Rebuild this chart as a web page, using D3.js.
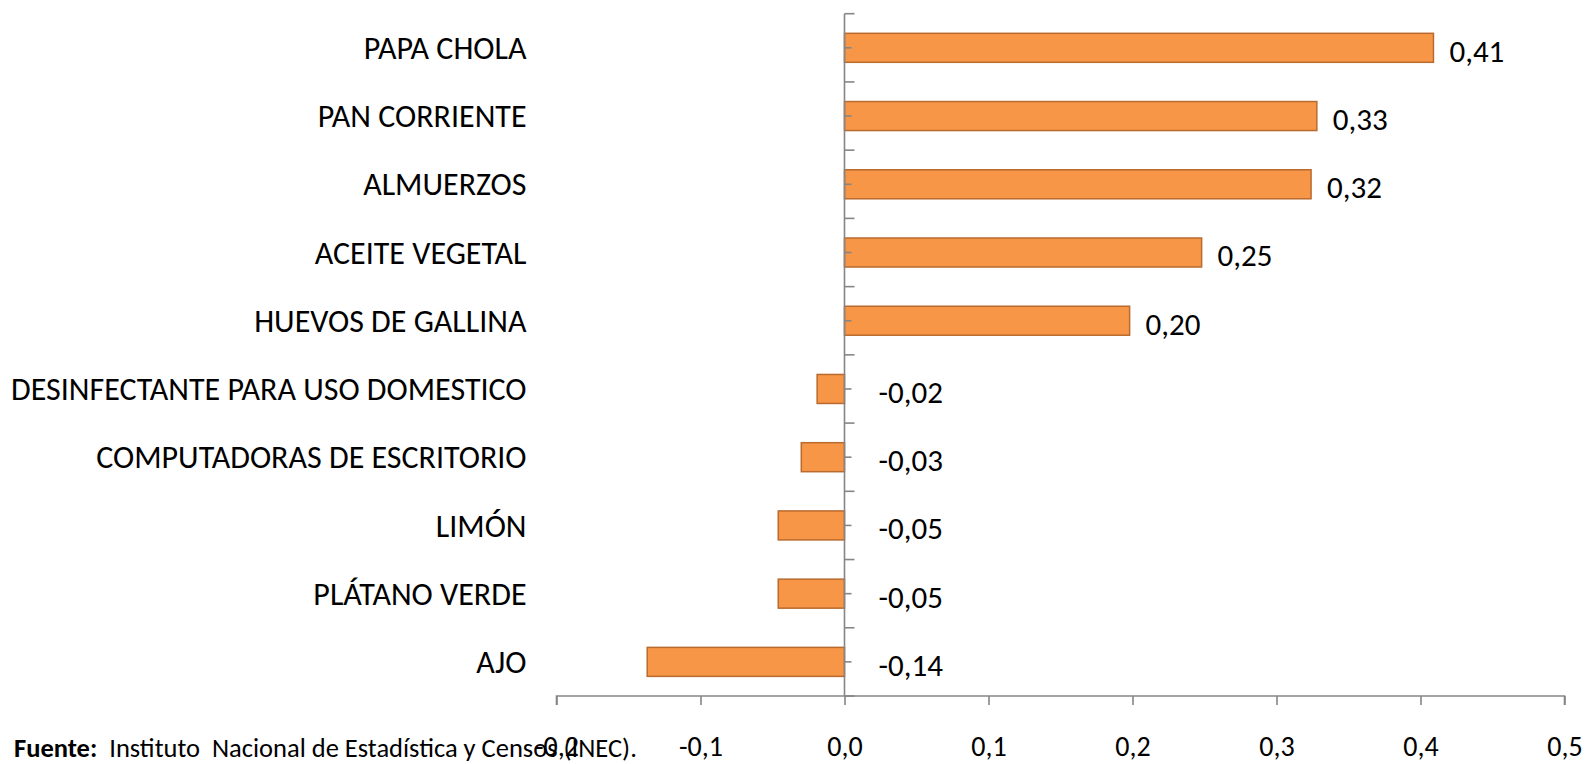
<!DOCTYPE html>
<html>
<head>
<meta charset="utf-8">
<script src="https://cdn.jsdelivr.net/npm/d3@7"></script>
<style>
  html, body { margin: 0; padding: 0; background: #ffffff; }
  svg { display: block; }
  text { font-family: "Carlito", "Lato", "Open Sans", sans-serif; fill: #000; }
</style>
</head>
<body>
<svg id="chart" width="1586" height="764"></svg>
<script>
// ---- data ----
const categories = [
  "PAPA CHOLA",
  "PAN CORRIENTE",
  "ALMUERZOS",
  "ACEITE VEGETAL",
  "HUEVOS DE GALLINA",
  "DESINFECTANTE PARA USO DOMESTICO",
  "COMPUTADORAS DE ESCRITORIO",
  "LIMÓN",
  "PLÁTANO VERDE",
  "AJO"
];
const values = [0.409, 0.328, 0.324, 0.248, 0.198, -0.019, -0.030, -0.046, -0.046, -0.137];
const xTicks = [-0.2, -0.1, 0.0, 0.1, 0.2, 0.3, 0.4, 0.5];
const sourceBold = "Fuente:";
const sourceText = "Instituto  Nacional de Estadística y Censos (INEC).";

// ---- layout ----
const svg = d3.select("#chart");
const plot = { left: 556.5, right: 1564.5, top: 13.7, bottom: 696 };
const axisColor = "#868686";
const fmt = v => d3.format(".2f")(v).replace(".", ",").replace("\u2212", "-");
const fmt1 = v => d3.format(".1f")(v).replace(".", ",").replace("\u2212", "-");

const x = d3.scaleLinear().domain([-0.2, 0.5]).range([plot.left, plot.right]);
const y = d3.scaleBand().domain(categories).range([plot.top, plot.bottom])
  .paddingInner(0.575).paddingOuter(0.2875);
const idx = d3.scaleLinear().domain([0, categories.length]).range([plot.top, plot.bottom]);

const data = categories.map((c, i) => ({ c, v: values[i] }));

// bars
svg.append("g").selectAll("rect").data(data).join("rect")
  .attr("x", d => x(Math.min(0, d.v)))
  .attr("y", d => y(d.c))
  .attr("width", d => Math.abs(x(d.v) - x(0)))
  .attr("height", y.bandwidth())
  .attr("fill", "#F79646")
  .attr("stroke", "#B96A2E")
  .attr("stroke-width", 1.5);

// x axis
const xAxis = svg.append("g")
  .attr("transform", `translate(0,${plot.bottom})`)
  .call(d3.axisBottom(x).tickValues(xTicks).tickSize(9).tickPadding(34)
    .tickFormat(v => fmt1(v)));
xAxis.select(".domain").attr("stroke", axisColor).attr("stroke-width", 1.6)
  .attr("d", `M${plot.left},9V0H${plot.right}V9`);
xAxis.selectAll(".tick line").attr("stroke", axisColor).attr("stroke-width", 1.6);
xAxis.selectAll(".tick text").attr("font-size", 28).attr("fill", "#000")
  .attr("dy", "0.62em")
  .style("font-family", '"Carlito","Lato","Open Sans",sans-serif');

// y axis (at x = 0)
const yAxis = svg.append("g").attr("transform", `translate(${x(0)},0)`);
yAxis.append("line")
  .attr("x1", 0).attr("x2", 0).attr("y1", plot.top).attr("y2", plot.bottom)
  .attr("stroke", axisColor).attr("stroke-width", 1.6);
yAxis.selectAll("line.bnd").data(d3.range(categories.length + 1)).join("line")
  .attr("class", "bnd")
  .attr("x1", 0).attr("x2", 10)
  .attr("y1", d => idx(d)).attr("y2", d => idx(d))
  .attr("stroke", axisColor).attr("stroke-width", 1.6);
yAxis.selectAll("line.ctr").data(categories).join("line")
  .attr("class", "ctr")
  .attr("x1", 0).attr("x2", 7)
  .attr("y1", d => y(d) + y.bandwidth() / 2).attr("y2", d => y(d) + y.bandwidth() / 2)
  .attr("stroke", axisColor).attr("stroke-width", 1.6);

// category labels
svg.append("g").selectAll("text").data(data).join("text")
  .attr("x", plot.left - 30)
  .attr("y", d => y(d.c) + y.bandwidth() / 2)
  .attr("dy", "0.35em")
  .attr("text-anchor", "end")
  .attr("font-size", 32)
  .text(d => d.c);

// value labels
svg.append("g").selectAll("text").data(data).join("text")
  .attr("x", d => d.v >= 0 ? x(d.v) + 16 : x(0) + 34)
  .attr("y", d => y(d.c) + y.bandwidth() / 2 + 3)
  .attr("dy", "0.35em")
  .attr("font-size", 31)
  .text(d => fmt(d.v));

// source
const src = svg.append("text").attr("x", 14).attr("y", 757).attr("font-size", 26.5);
src.append("tspan").attr("font-weight", "bold").text(sourceBold);
src.append("tspan").attr("xml:space", "preserve").style("white-space", "pre").text("  " + sourceText);
</script>
</body>
</html>
